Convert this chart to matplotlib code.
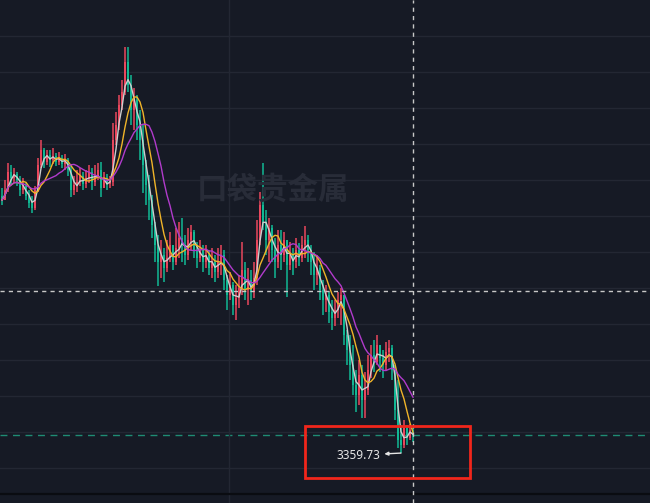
import numpy as np
import pandas as pd
import matplotlib.pyplot as plt
from matplotlib.patches import Rectangle

plt.rcParams['font.family'] = ['Noto Sans', 'DejaVu Sans']

# K线数据 (收盘/最高/最低), 开盘 = 前一根收盘
first_open = 3424.0
closes = [3423, 3425.5, 3430, 3428.5, 3429.5, 3428, 3425.5, 3426.5, 3424, 3422.25,
          3421, 3425.5, 3431.75, 3435.5, 3432.5, 3434.25, 3433, 3434, 3432.5, 3433.5,
          3432, 3433, 3430.5, 3425.5, 3426.75, 3427.5, 3429, 3427, 3428.5, 3430,
          3427.5, 3429, 3430.5, 3426, 3428, 3427, 3427.5, 3438, 3441.75, 3446.75,
          3450, 3457.5, 3451.75, 3445.5, 3448, 3441.75, 3438, 3431.75, 3426.75, 3423,
          3416.75, 3411.75, 3407.5, 3409.25, 3406, 3408.5, 3411.75, 3407.5, 3411, 3413.5,
          3411.75, 3409.25, 3413, 3415, 3410.5, 3408.5, 3410.5, 3407.5, 3409.25, 3406,
          3407.5, 3405, 3407.5, 3409.25, 3403, 3399.25, 3401.75, 3396.75, 3398.5, 3401,
          3405.5, 3400.5, 3403, 3400, 3403.5, 3413, 3421.75, 3417.5, 3413, 3416,
          3410.5, 3407.5, 3411.75, 3409.25, 3413, 3406.75, 3409.25, 3407.5, 3410.5, 3408.5,
          3411.75, 3413, 3410.5, 3407.5, 3404.25, 3406, 3400.5, 3398, 3399.25, 3395,
          3393.5, 3395.5, 3398, 3399.25, 3389.25, 3385.5, 3381.75, 3376.75, 3374.25, 3379.25,
          3373, 3375.5, 3380.5, 3384.25, 3382.5, 3386.75, 3383.5, 3381.75, 3385, 3386,
          3380.5, 3370.5, 3363, 3361.75, 3366, 3363.5, 3365.5, 3364.25]
highs = [3426, 3428, 3432.25, 3431.75, 3431, 3430, 3429, 3428.5, 3427.25, 3425.5,
         3424, 3426.5, 3433.5, 3438, 3436, 3435.5, 3435.5, 3436, 3434.75, 3435,
         3434.25, 3434.5, 3433.5, 3431.75, 3429, 3430.5, 3431, 3430, 3430.5, 3431.75,
         3431, 3431.75, 3432.25, 3432.5, 3430, 3429.5, 3429, 3442.25, 3445, 3449.25,
         3453, 3461.25, 3461.25, 3454.25, 3451, 3449.25, 3445.5, 3441.75, 3433, 3429.25,
         3424.25, 3417.5, 3414.25, 3413, 3411, 3413, 3415, 3411.75, 3416, 3417.5,
         3418.5, 3414.25, 3416, 3416.75, 3415.5, 3412.5, 3413, 3411.75, 3411.75, 3410.5,
         3411, 3409.25, 3411, 3411.75, 3410.5, 3404.25, 3405, 3402.5, 3401.75, 3404.25,
         3412.5, 3407.5, 3406, 3405.5, 3407.5, 3418, 3425, 3432.25, 3420.5, 3418.5,
         3416.75, 3413.5, 3415.5, 3415.5, 3415, 3413, 3412.5, 3411, 3413.5, 3412.25,
         3414, 3416.5, 3414.25, 3411.75, 3410, 3409.25, 3406.75, 3403, 3401.75, 3400,
         3398, 3398, 3400, 3401, 3399.25, 3390.5, 3389.25, 3386.75, 3380.5, 3383,
         3381.75, 3380, 3384.25, 3386.75, 3388, 3389.25, 3386.75, 3385.5, 3387.5, 3388,
         3386.75, 3381.75, 3378, 3366.75, 3368, 3366.75, 3367, 3366]
lows = [3421.75, 3423, 3425, 3426.75, 3427.5, 3426.5, 3424, 3424.5, 3423, 3421,
        3419.75, 3420.5, 3425, 3431, 3431, 3431.75, 3431.25, 3432, 3431.5, 3431.75,
        3431, 3430.5, 3429, 3423.75, 3424.25, 3425, 3426.5, 3425.5, 3426, 3427.25,
        3425.5, 3426.5, 3428, 3423.75, 3426, 3425.5, 3426, 3426.5, 3436.75, 3440.5,
        3445.5, 3449.25, 3450, 3441.75, 3440.5, 3438, 3433, 3424.75, 3421.75, 3418,
        3413.5, 3407.5, 3401.5, 3403.5, 3402.5, 3405, 3407.5, 3405.5, 3406.75, 3408.5,
        3407.5, 3406.75, 3408, 3410.5, 3408.5, 3406, 3407.5, 3405, 3406, 3404.25,
        3403.5, 3402.5, 3403.5, 3404.25, 3400.5, 3395.5, 3398, 3394.25, 3393, 3396,
        3399.25, 3398, 3396.75, 3398, 3398.5, 3401.75, 3411.75, 3415.5, 3409.25, 3407.5,
        3407.5, 3403.5, 3406, 3405.5, 3407.5, 3398.75, 3405.5, 3404.25, 3406, 3406.5,
        3407.5, 3408.5, 3407.5, 3404.25, 3400.5, 3401.75, 3398, 3394.25, 3395, 3392.25,
        3390.5, 3391.5, 3393.5, 3391.75, 3386.75, 3381.75, 3378, 3374.25, 3370, 3371.75,
        3368.5, 3368.5, 3374.25, 3378.5, 3380, 3381.75, 3380, 3378.5, 3380.5, 3382.5,
        3378, 3368, 3361, 3359.73, 3361, 3361.75, 3363, 3362.5]

ma_periods = [3, 7, 13]
ma_colors = ['#cdcdcd', '#f0b429', '#b13bcc']
cross_price = 3400.25
watermark = '口袋贵金属'

bg = '#161a25'
up_col = '#e9475d'
down_col = '#11b894'

closes = np.array(closes)
highs = np.array(highs)
lows = np.array(lows)
opens = np.r_[first_open, closes[:-1]]
highs = np.maximum(highs, np.maximum(opens, closes))
lows = np.minimum(lows, np.minimum(opens, closes))
x = np.arange(len(closes))

fig = plt.figure(figsize=(6.5, 5.03), dpi=100, facecolor=bg)
ax = fig.add_axes([0, 0, 1, 1], facecolor=bg)
ax.set_xlim(-0.667, 216)
ax.set_ylim(3347.25, 3473)

# 网格
ax.set_yticks(np.arange(3356, 3465, 9))
ax.set_xticks([75.67])
ax.grid(True, color='#232733', lw=1)
ax.tick_params(length=0, labelleft=False, labelbottom=False)
for s in ax.spines.values():
    s.set_visible(False)
ax.axhline(3349.5, color='#0a0c11', lw=1.6)

# 水印
fig.text(0.42, 0.622, watermark, fontsize=22, fontweight='bold', color='#282c38',
         family=['Noto Sans CJK SC', 'DejaVu Sans'], ha='center', va='center', zorder=0)

# K线
col = np.where(closes >= opens, up_col, down_col)
ax.vlines(x, lows, highs, colors=col, lw=1.1, zorder=2)
ax.bar(x, np.maximum(np.abs(closes - opens), 0.4), bottom=np.minimum(opens, closes),
       width=0.85, color=col, lw=0, zorder=2)

# 均线
s = pd.Series(closes)
for n, c in zip(ma_periods, ma_colors):
    ax.plot(x, s.rolling(n, min_periods=1).mean(), color=c, lw=1, zorder=3)

# 十字光标 / 最新价
ax.axvline(x[-1], color='#c8c8c8', lw=1, ls=(0, (3, 3)), zorder=4)
ax.axhline(cross_price, color='#c8c8c8', lw=1, ls=(0, (3, 3)), zorder=4)
ax.axhline(closes[-1], color='#1f8c74', lw=1, ls=(0, (5, 4)), zorder=1)

# 最低价标注
i_min = int(np.argmin(lows))
ax.annotate(f'{lows[i_min]:.2f}', xy=(i_min, lows[i_min]), xytext=(-15, -1.5),
            textcoords='offset points', ha='right', va='center', fontsize=8.5,
            color='#e6e6e6',
            arrowprops=dict(arrowstyle='<|-, head_length=0.25, head_width=0.12',
                            color='#e6e6e6', lw=1, shrinkA=1, shrinkB=0))

fig.patches.append(Rectangle((305 / 650, 25 / 503), 165 / 650, 52 / 503,
                             transform=fig.transFigure, fill=False,
                             edgecolor='#f0261b', lw=2))

fig.savefig('out.png', dpi=100, facecolor=bg)
